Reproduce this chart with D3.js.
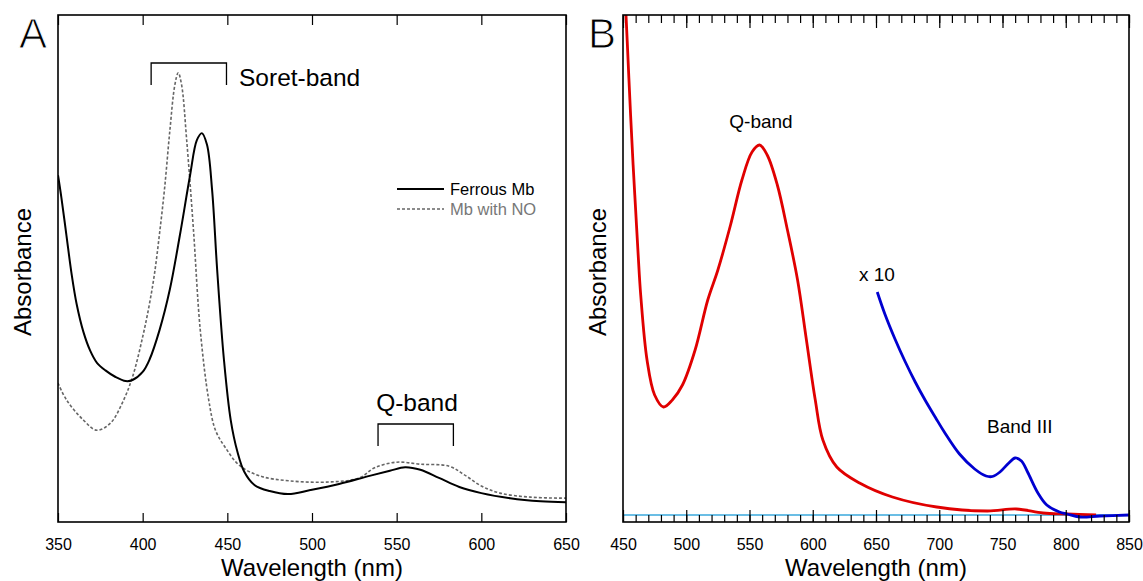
<!DOCTYPE html>
<html>
<head>
<meta charset="utf-8">
<script src="https://cdn.jsdelivr.net/npm/d3@7"></script>
<style>
  html, body { margin: 0; padding: 0; background: #fff; }
  svg { display: block; }
  text { font-family: "Liberation Sans", Arial, sans-serif; }
</style>
</head>
<body>
<svg id="chart" width="1143" height="581"></svg>
<script>
// ---------------- DATA ----------------
// Panel A: wavelength (nm) and relative absorbance
const aFerrousWl  = [350,352,355,358,361,365,369,373,378,384,390,394,400,404,410,416,422,428,432,435,438,441,444,448,452,456,460,466,475,486,499,516,534,546,555,564,575,587,600,617,635,650];
const aFerrousAbs = [0.684,0.640,0.565,0.490,0.430,0.375,0.338,0.314,0.299,0.286,0.278,0.280,0.296,0.320,0.379,0.458,0.566,0.684,0.753,0.767,0.744,0.655,0.497,0.320,0.201,0.138,0.099,0.073,0.061,0.055,0.063,0.075,0.091,0.101,0.108,0.103,0.087,0.069,0.057,0.047,0.041,0.039];

const aNOWl  = [350,355,365,373,381,388,394,400,404,407,410,413,416,419,421,423,426,430,434,439,443,449,457,469,487,511,528,537,550,564,581,590,600,611,629,650];
const aNOAbs = [0.274,0.241,0.201,0.181,0.195,0.235,0.286,0.365,0.430,0.490,0.570,0.660,0.770,0.862,0.886,0.862,0.753,0.576,0.379,0.241,0.181,0.146,0.112,0.091,0.081,0.079,0.087,0.107,0.118,0.114,0.110,0.093,0.071,0.057,0.049,0.047];

const aSeriesNames = ["Ferrous Mb", "Mb with NO"];
const aTickLabels = [350,400,450,500,550,600,650];

// Panel B: wavelength (nm) and relative absorbance
const bRedWl  = [450,452,454,456,458,460,462,464,469,475,482,489,497,507,517,525,535,544,552,558,564,572,580,588,595,602,608,619,637,663,698,738,761,782,801,824];
const bRedAbs = [1.10,1.02,0.91,0.80,0.70,0.61,0.52,0.44,0.31,0.24,0.216,0.23,0.26,0.33,0.43,0.49,0.58,0.67,0.726,0.74,0.72,0.66,0.57,0.47,0.35,0.23,0.15,0.096,0.064,0.036,0.016,0.008,0.012,0.004,0.002,0.0];

const bBlueWl  = [651,657,665,673,681,689,697,704,716,728,737,742,748,755,760,765,770,778,785,795,801,811,827,850];
const bBlueAbs = [0.446,0.402,0.352,0.307,0.266,0.229,0.195,0.166,0.122,0.092,0.078,0.077,0.086,0.104,0.114,0.108,0.085,0.044,0.020,0.006,0.002,-0.004,-0.002,0.0];

const bTickLabels = [450,500,550,600,650,700,750,800,850];

// ---------------- LAYOUT ----------------
const svg = d3.select("#chart");
const A = {left: 58, right: 566, top: 15, bottom: 522};
const B = {left: 623, right: 1129, top: 15, bottom: 522};

const xA = d3.scaleLinear().domain([350, 650]).range([A.left, A.right]);
const yA = d3.scaleLinear().domain([0, 1]).range([A.bottom, A.top]);
const xB = d3.scaleLinear().domain([450, 850]).range([B.left, B.right]);
const yB = d3.scaleLinear().domain([0, 1]).range([515, 15]);

const defs = svg.append("defs");
defs.append("clipPath").attr("id", "clipA").append("rect")
  .attr("x", A.left).attr("y", A.top).attr("width", A.right - A.left).attr("height", A.bottom - A.top);
defs.append("clipPath").attr("id", "clipB").append("rect")
  .attr("x", B.left).attr("y", B.top).attr("width", B.right - B.left).attr("height", B.bottom - B.top);

function zip(xs, ys) { return xs.map((x, i) => [x, ys[i]]); }
const smooth = d3.curveCatmullRom.alpha(0.5);

// ---------------- PANEL A ----------------
const gA = svg.append("g");
const lineA = d3.line().x(d => xA(d[0])).y(d => yA(d[1])).curve(smooth);

gA.append("path").datum(zip(aNOWl, aNOAbs))
  .attr("clip-path", "url(#clipA)")
  .attr("d", lineA).attr("fill", "none")
  .attr("stroke", "#666").attr("stroke-width", 1.6).attr("stroke-dasharray", "3,2");
gA.append("path").datum(zip(aFerrousWl, aFerrousAbs))
  .attr("clip-path", "url(#clipA)")
  .attr("d", lineA).attr("fill", "none")
  .attr("stroke", "#000").attr("stroke-width", 2);

// axes A
const axA = gA.append("g").attr("transform", `translate(0,${A.bottom})`)
  .call(d3.axisBottom(xA).tickValues(aTickLabels).tickSizeInner(-9).tickSizeOuter(0).tickPadding(17).tickFormat(d3.format("d")));
axA.select(".domain").remove();
axA.selectAll(".tick line").attr("stroke", "#000").attr("stroke-width", 1.2);
axA.selectAll(".tick text").attr("font-size", 16).attr("fill", "#000");

const axAtop = gA.append("g").attr("transform", `translate(0,${A.top})`)
  .call(d3.axisTop(xA).tickValues(aTickLabels).tickSizeInner(-10).tickSizeOuter(0).tickFormat(""));
axAtop.select(".domain").remove();
axAtop.selectAll(".tick line").attr("stroke", "#000").attr("stroke-width", 1.2);

gA.append("rect").attr("x", A.left).attr("y", A.top)
  .attr("width", A.right - A.left).attr("height", A.bottom - A.top)
  .attr("fill", "none").attr("stroke", "#000").attr("stroke-width", 1.6);

// labels A (thin panel letter: white outline erodes the glyph)
gA.append("text").attr("x", 19).attr("y", 48).attr("font-size", 42)
  .attr("font-family", "'DejaVu Sans', sans-serif")
  .attr("stroke", "#fff").attr("stroke-width", 1.0).text("A");
gA.append("text").attr("transform", "translate(31,272) rotate(-90)")
  .attr("text-anchor", "middle").attr("font-size", 24).text("Absorbance");
gA.append("text").attr("x", (A.left + A.right) / 2).attr("y", 576)
  .attr("text-anchor", "middle").attr("font-size", 24).text("Wavelength (nm)");

// Soret bracket
gA.append("path").attr("d", `M${xA(405)},${85}V63H${xA(449.5)}V85`)
  .attr("fill", "none").attr("stroke", "#000").attr("stroke-width", 1.3);
gA.append("text").attr("x", 239).attr("y", 86).attr("font-size", 24.5).text("Soret-band");
// Q bracket
gA.append("path").attr("d", `M${xA(539)},${446}V424H${xA(583.5)}V446`)
  .attr("fill", "none").attr("stroke", "#000").attr("stroke-width", 1.3);
gA.append("text").attr("x", 417).attr("y", 411).attr("text-anchor", "middle").attr("font-size", 24.5).text("Q-band");

// legend A
gA.append("line").attr("x1", 397).attr("x2", 444).attr("y1", 189).attr("y2", 189)
  .attr("stroke", "#000").attr("stroke-width", 1.8);
gA.append("text").attr("x", 450).attr("y", 195).attr("font-size", 16.5).attr("fill", "#000").text(aSeriesNames[0]);
gA.append("line").attr("x1", 397).attr("x2", 444).attr("y1", 209).attr("y2", 209)
  .attr("stroke", "#666").attr("stroke-width", 1.4).attr("stroke-dasharray", "3,2");
gA.append("text").attr("x", 450).attr("y", 215).attr("font-size", 16.5).attr("fill", "#777").text(aSeriesNames[1]);

// ---------------- PANEL B ----------------
const gB = svg.append("g");
const lineB = d3.line().x(d => xB(d[0])).y(d => yB(d[1])).curve(smooth);

// baseline
gB.append("line").attr("x1", B.left).attr("x2", B.right).attr("y1", yB(0)).attr("y2", yB(0))
  .attr("stroke", "#3aa8dc").attr("stroke-width", 1.5);

gB.append("path").datum(zip(bRedWl, bRedAbs))
  .attr("clip-path", "url(#clipB)")
  .attr("d", lineB).attr("fill", "none")
  .attr("stroke", "#e00000").attr("stroke-width", 2.8);
gB.append("path").datum(zip(bBlueWl, bBlueAbs))
  .attr("clip-path", "url(#clipB)")
  .attr("d", lineB).attr("fill", "none")
  .attr("stroke", "#0000d0").attr("stroke-width", 2.8);

const minorB = d3.range(450, 851, 10);
// bottom minor
const axBmin = gB.append("g").attr("transform", `translate(0,${B.bottom})`)
  .call(d3.axisBottom(xB).tickValues(minorB).tickSizeInner(-7).tickSizeOuter(0).tickFormat(""));
axBmin.select(".domain").remove();
// bottom major
const axBmaj = gB.append("g").attr("transform", `translate(0,${B.bottom})`)
  .call(d3.axisBottom(xB).tickValues(bTickLabels).tickSizeInner(-12).tickSizeOuter(0).tickPadding(17).tickFormat(d3.format("d")));
axBmaj.select(".domain").remove();
axBmaj.selectAll(".tick text").attr("font-size", 16).attr("fill", "#000");
// top minor / major
const axBtmin = gB.append("g").attr("transform", `translate(0,${B.top})`)
  .call(d3.axisTop(xB).tickValues(minorB).tickSizeInner(-8).tickSizeOuter(0).tickFormat(""));
axBtmin.select(".domain").remove();
const axBtmaj = gB.append("g").attr("transform", `translate(0,${B.top})`)
  .call(d3.axisTop(xB).tickValues(bTickLabels).tickSizeInner(-13).tickSizeOuter(0).tickFormat(""));
axBtmaj.select(".domain").remove();
gB.selectAll(".tick line").attr("stroke", "#000").attr("stroke-width", 1.2);

gB.append("rect").attr("x", B.left).attr("y", B.top)
  .attr("width", B.right - B.left).attr("height", B.bottom - B.top)
  .attr("fill", "none").attr("stroke", "#000").attr("stroke-width", 1.6);

// labels B
gB.append("text").attr("x", 588).attr("y", 48).attr("font-size", 42)
  .attr("font-family", "'DejaVu Sans', sans-serif")
  .attr("stroke", "#fff").attr("stroke-width", 1.0).text("B");
gB.append("text").attr("transform", "translate(606,272) rotate(-90)")
  .attr("text-anchor", "middle").attr("font-size", 24).text("Absorbance");
gB.append("text").attr("x", (B.left + B.right) / 2).attr("y", 576)
  .attr("text-anchor", "middle").attr("font-size", 24).text("Wavelength (nm)");

gB.append("text").attr("x", 761).attr("y", 128).attr("text-anchor", "middle").attr("font-size", 19).text("Q-band");
gB.append("text").attr("x", 859).attr("y", 281).attr("font-size", 19).text("x 10");
gB.append("text").attr("x", 987).attr("y", 433).attr("font-size", 19).text("Band III");
</script>
</body>
</html>
